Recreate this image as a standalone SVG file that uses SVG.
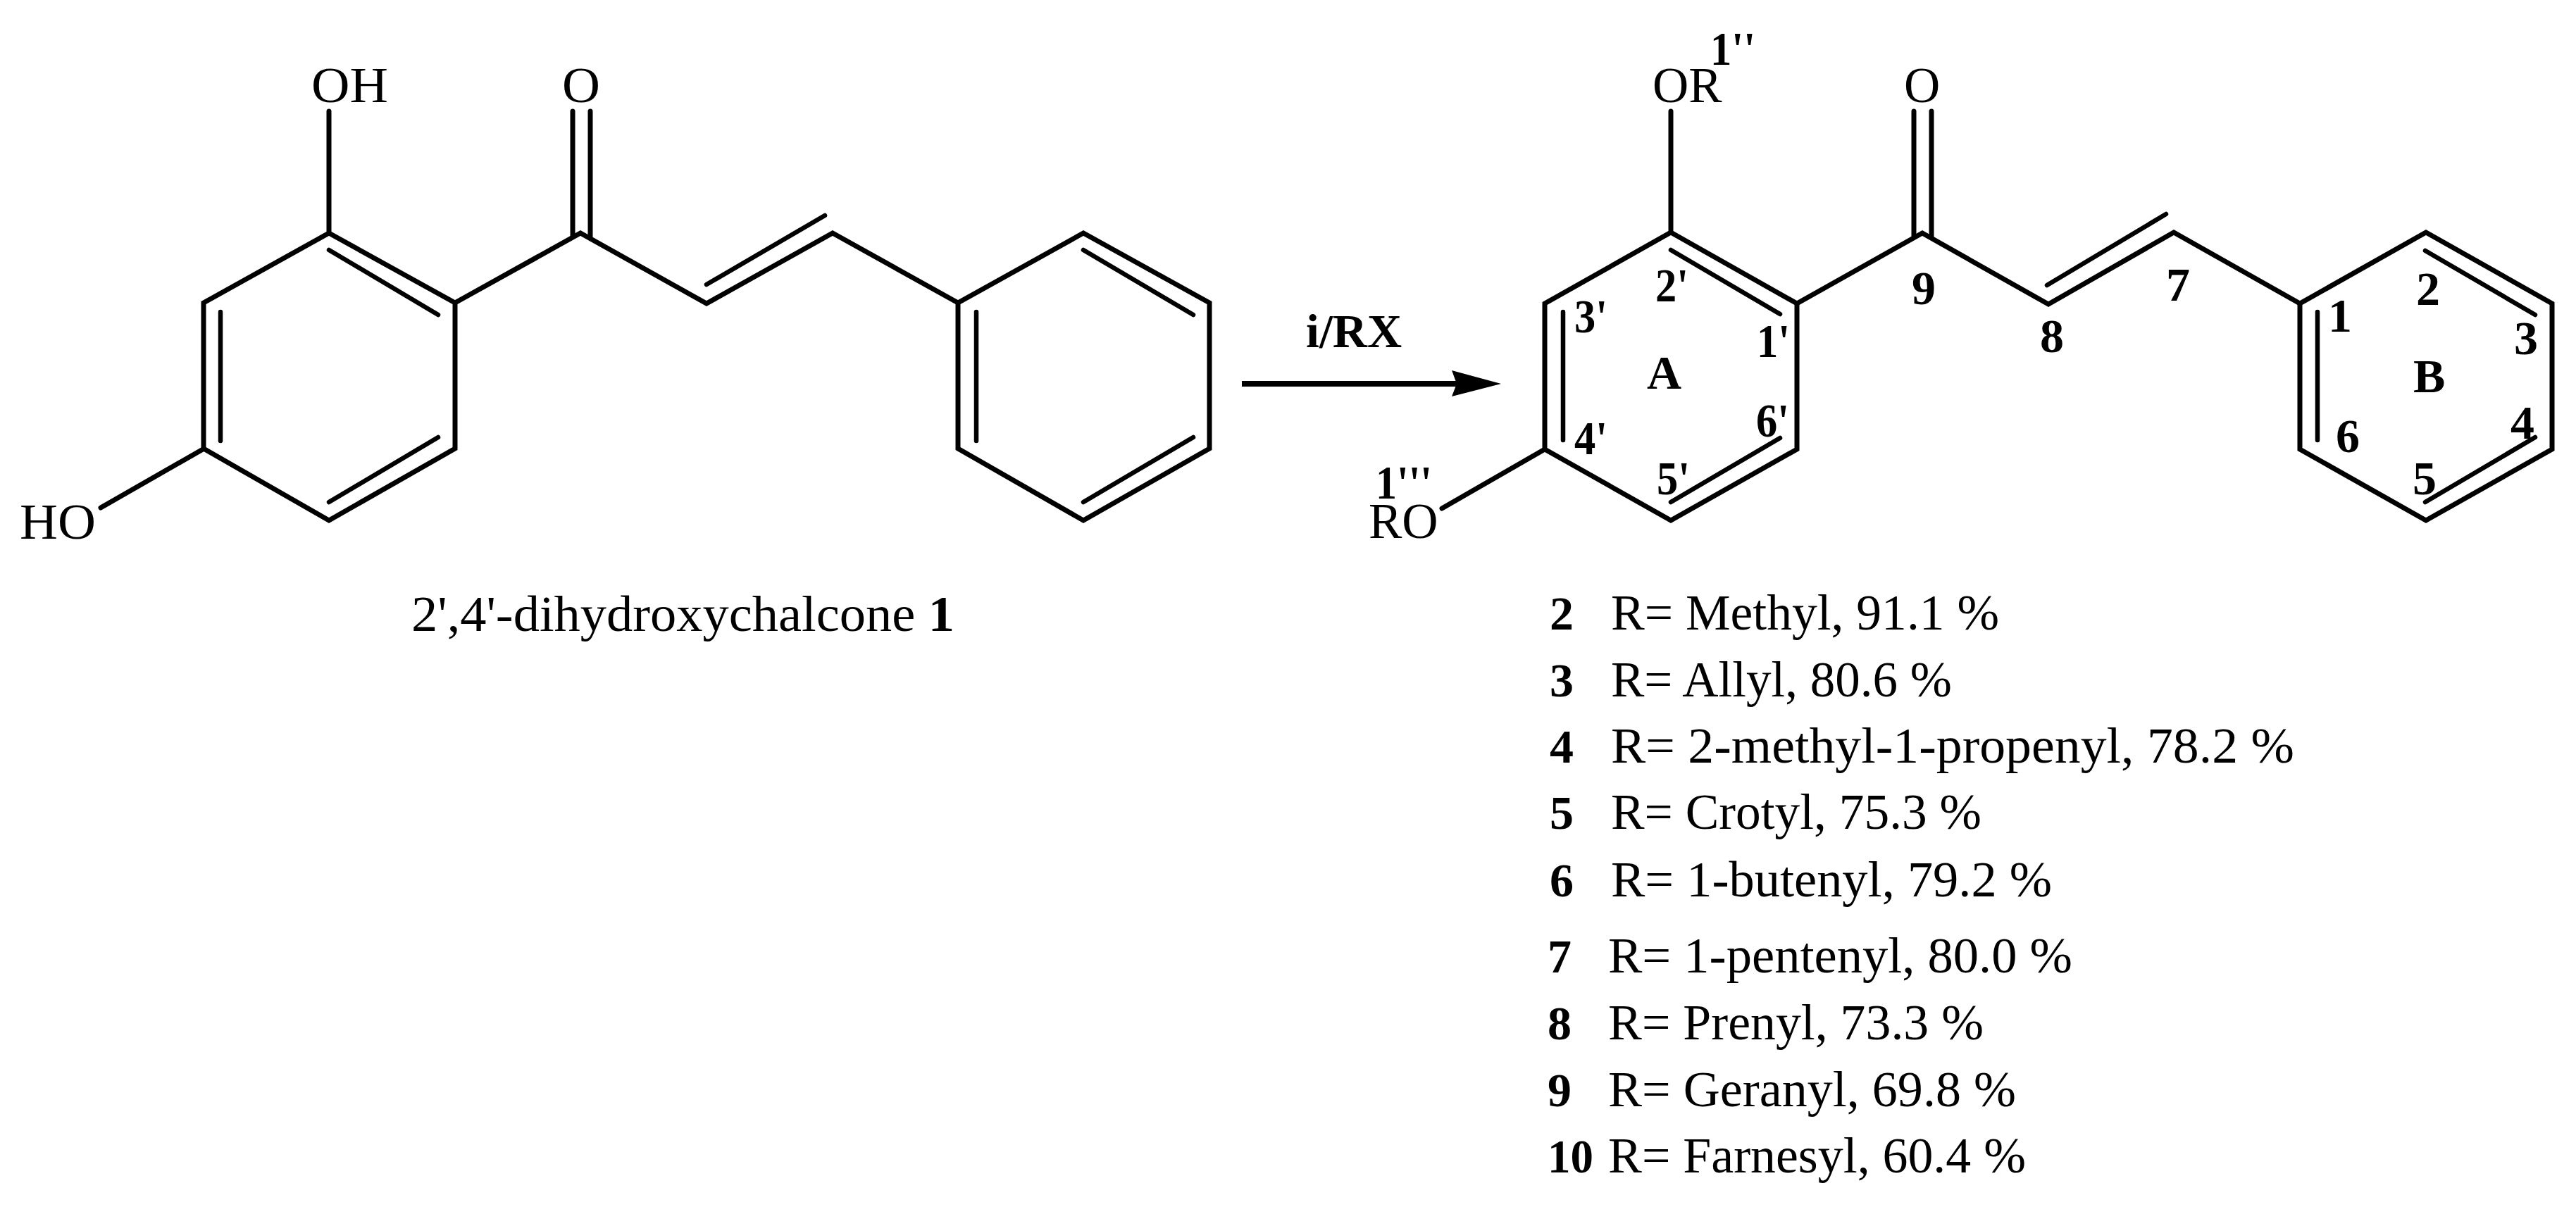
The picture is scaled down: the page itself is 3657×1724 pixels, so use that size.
<svg xmlns="http://www.w3.org/2000/svg" width="3657" height="1724" viewBox="0 0 3657 1724">
<style>
text{font-family:"Liberation Serif","Times New Roman",serif;fill:#000}
.a{font-size:71px}
.n{font-size:68px;font-weight:bold}
.l{font-size:71px}
.b{font-size:68px;font-weight:bold}
.bond{fill:none;stroke:#000;stroke-width:7;stroke-linejoin:miter;stroke-linecap:butt}
.end{fill:none;stroke:#000;stroke-width:7;stroke-linecap:round}
.in{fill:none;stroke:#000;stroke-width:6.500;stroke-linecap:round}
</style>
<rect width="3657" height="1724" fill="#fff"/>
<g id="compound-1">
<path class="bond" d="M467 331L646 430V637L467 739L289 637V430Z"/>
<path class="bond" d="M646 430L824 331L1003 431L1182 331L1360 430"/>
<path class="bond" d="M1360 430L1538 331L1717 430V637L1538 739L1360 637Z"/>
<path class="end" d="M467 158V328M288 638L143 721M813 158V336M838 158V336"/>
<path class="in" d="M467 355L622 447M313 443V626M622 621L467 713M1171 306L1003 404M1538 355L1694 447M1386 443V626M1694 621L1538 713"/>
<text class="a" x="442" y="145" textLength="109" lengthAdjust="spacingAndGlyphs">OH</text>
<text class="a" x="798" y="145" textLength="54" lengthAdjust="spacingAndGlyphs">O</text>
<text class="a" x="28" y="765" textLength="108" lengthAdjust="spacingAndGlyphs">HO</text>
<text id="caption" x="584" y="896" font-size="72" textLength="771" lengthAdjust="spacingAndGlyphs">2',4'-dihydroxychalcone <tspan font-weight="bold">1</tspan></text>
</g>
<g id="connectors">
<path d="M1763 541H2069V549H1763Z" fill="#000"/>
<path d="M2131 545L2061 526L2068 545L2061 563Z" fill="#000"/>
<text class="b" x="1854" y="493">i/RX</text>
</g>
<g id="compound-general">
<path class="bond" d="M2372 330L2551 431V638L2372 739L2193 638V431Z"/>
<path class="bond" d="M2551 431L2729 331L2908 432L3086 330L3265 431"/>
<path class="bond" d="M3265 431L3444 330L3623 431V638L3444 739L3265 638Z"/>
<path class="end" d="M2372 158V327M2193 638L2047 722M2717 158V336M2742 158V336"/>
<path class="in" d="M2372 355L2527 446M2219 443V625M2527 622L2372 713M3075 304L2906 405M3443 356L3599 447M3290 443V625M3599 621L3443 713"/>
<text class="a" x="2346" y="145">OR</text>
<text class="a" x="2703" y="145">O</text>
<text class="a" x="1943" y="764">RO</text>
<text class="n" x="2428" y="92" textLength="64" lengthAdjust="spacingAndGlyphs">1''</text>
<text class="n" x="1953" y="708" textLength="80" lengthAdjust="spacingAndGlyphs">1'''</text>
<text class="n" x="2350" y="428" textLength="47" lengthAdjust="spacingAndGlyphs">2'</text>
<text class="n" x="2235" y="472" textLength="47" lengthAdjust="spacingAndGlyphs">3'</text>
<text class="n" x="2494" y="507" textLength="47" lengthAdjust="spacingAndGlyphs">1'</text>
<text class="n" x="2493" y="620" textLength="47" lengthAdjust="spacingAndGlyphs">6'</text>
<text class="n" x="2235" y="645" textLength="47" lengthAdjust="spacingAndGlyphs">4'</text>
<text class="n" x="2352" y="702" textLength="47" lengthAdjust="spacingAndGlyphs">5'</text>
<text class="n" x="2338" y="552">A</text>
<text class="n" x="3426" y="557">B</text>
<text class="n" x="2714" y="432">9</text>
<text class="n" x="2896" y="500">8</text>
<text class="n" x="3075" y="427">7</text>
<text class="n" x="3305" y="471">1</text>
<text class="n" x="3430" y="433">2</text>
<text class="n" x="3569" y="503">3</text>
<text class="n" x="3564" y="623">4</text>
<text class="n" x="3425" y="702">5</text>
<text class="n" x="3316" y="642">6</text>
</g>
<g id="r-list">
<g id="row-2"><text class="b" x="2200" y="894">2</text><text class="l" x="2287" y="894" textLength="551" lengthAdjust="spacingAndGlyphs">R= Methyl, 91.1 %</text></g>
<g id="row-3"><text class="b" x="2200" y="989">3</text><text class="l" x="2287" y="989" textLength="484" lengthAdjust="spacingAndGlyphs">R= Allyl, 80.6 %</text></g>
<g id="row-4"><text class="b" x="2200" y="1083">4</text><text class="l" x="2287" y="1083" textLength="970" lengthAdjust="spacingAndGlyphs">R= 2-methyl-1-propenyl, 78.2 %</text></g>
<g id="row-5"><text class="b" x="2200" y="1177">5</text><text class="l" x="2287" y="1177" textLength="526" lengthAdjust="spacingAndGlyphs">R= Crotyl, 75.3 %</text></g>
<g id="row-6"><text class="b" x="2200" y="1273">6</text><text class="l" x="2287" y="1273" textLength="626" lengthAdjust="spacingAndGlyphs">R= 1-butenyl, 79.2 %</text></g>
<g id="row-7"><text class="b" x="2197" y="1381">7</text><text class="l" x="2283" y="1381" textLength="659" lengthAdjust="spacingAndGlyphs">R= 1-pentenyl, 80.0 %</text></g>
<g id="row-8"><text class="b" x="2197" y="1476">8</text><text class="l" x="2283" y="1476" textLength="533" lengthAdjust="spacingAndGlyphs">R= Prenyl, 73.3 %</text></g>
<g id="row-9"><text class="b" x="2197" y="1571">9</text><text class="l" x="2283" y="1571" textLength="579" lengthAdjust="spacingAndGlyphs">R= Geranyl, 69.8 %</text></g>
<g id="row-10"><text class="b" x="2197" y="1665" textLength="65" lengthAdjust="spacingAndGlyphs">10</text><text class="l" x="2283" y="1665" textLength="593" lengthAdjust="spacingAndGlyphs">R= Farnesyl, 60.4 %</text></g>
</g>
</svg>
